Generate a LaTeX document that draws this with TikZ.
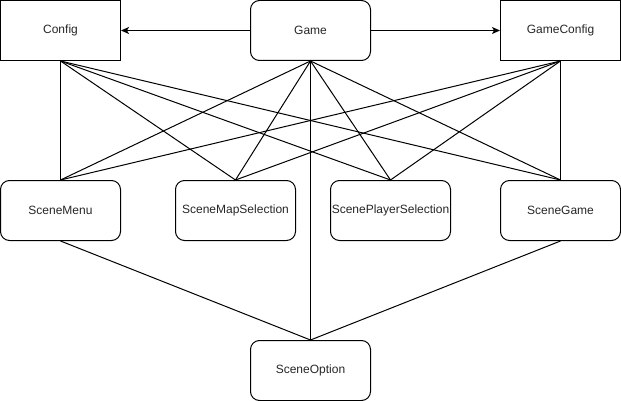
\documentclass[tikz,border=0pt]{standalone}
\usepackage{fontspec}
\setmainfont{Liberation Sans}
\usetikzlibrary{arrows.meta}
\newcommand{\lbl}[1]{\raisebox{-1.5pt}{#1}}
\begin{document}
\begin{tikzpicture}[x=1pt,y=-1pt,
  box/.style={draw=black, line width=1pt, minimum width=120pt, minimum height=60pt, inner sep=0pt, font=\fontsize{12}{14}\selectfont, text=black!85},
  rbox/.style={box, rounded corners=9pt},
  conn/.style={line width=1pt},
  arr/.style={conn, -{Stealth[length=8pt,width=7pt,inset=2pt]}}]
\useasboundingbox (0,0) rectangle (621,401);
\node[box]  (config)  at (60.5,30.5) {\lbl{Config}};
\node[rbox] (game)    at (310.5,30.5) {\lbl{Game}};
\node[box]  (gconfig) at (560.5,30.5) {\lbl{GameConfig}};
\node[rbox] (menu)    at (60.5,210.5) {\lbl{SceneMenu}};
\node[rbox] (map)     at (235.5,210.5) {\lbl{SceneMapSelection}};
\node[rbox] (player)  at (390.5,210.5) {\lbl{ScenePlayerSelection}};
\node[rbox] (sgame)   at (560.5,210.5) {\lbl{SceneGame}};
\node[rbox] (option)  at (310.5,370.5) {\lbl{SceneOption}};
\draw[arr] (game.west) -- (config.east);
\draw[arr] (game.east) -- (gconfig.west);
\foreach \s in {config,game,gconfig}{
  \foreach \t in {menu,map,player,sgame}{
    \draw[conn] (\s.south) -- (\t.north);
  }
}
\draw[conn] (game.south) -- (option.north);
\draw[conn] (menu.south) -- (option.north);
\draw[conn] (sgame.south) -- (option.north);
\end{tikzpicture}
\end{document}
